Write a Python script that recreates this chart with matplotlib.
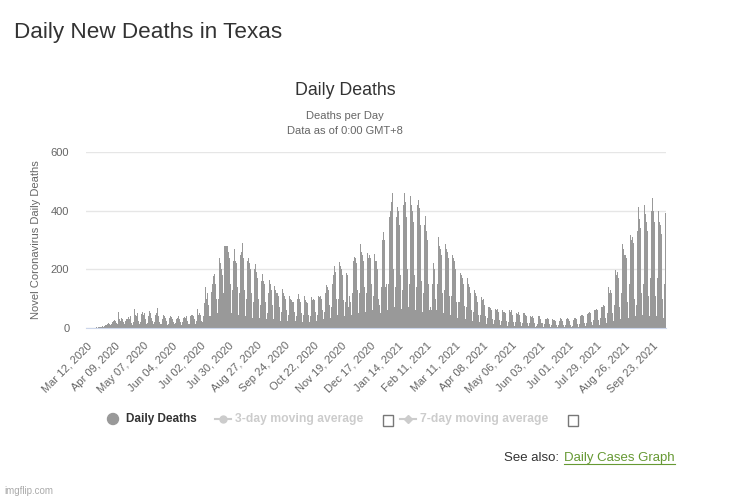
"""Daily New Deaths in Texas - bar chart recreated with matplotlib."""

import matplotlib
matplotlib.use("Agg")
import matplotlib.pyplot as plt
from matplotlib.patches import Circle, Rectangle
import numpy as np
import pandas as pd

START_DATE = "2020-03-12"

# daily deaths, one row per week (Thu..Wed)
deaths_2020_spring = [
    0, 0, 0, 0, 0, 1, 0,
    1, 1, 0, 2, 1, 3, 2,
    4, 5, 6, 3, 7, 9, 11,
    14, 18, 12, 9, 15, 22, 25,
    28, 25, 18, 13, 55, 30, 25,
    35, 32, 20, 12, 25, 30, 38,
    30, 40, 18, 10, 22, 65, 45,
    40, 50, 25, 14, 20, 48, 55,
    45, 50, 30, 12, 18, 40, 58,
    52, 35, 25, 15, 20, 45, 50,
    68, 40, 22, 12, 15, 30, 45,
    40, 35, 25, 10, 15, 35, 40,
    38, 30, 20, 12, 18, 30, 35,
    40, 32, 20, 10, 20, 35, 38,
    35, 40, 25, 12, 15, 40, 45,
    45, 40, 30, 15, 25, 65, 45,
]
deaths_2020_summer = [
    50, 45, 25, 20, 40, 85, 139,
    100, 120, 80, 40, 122, 150, 177,
    184, 150, 100, 50, 100, 240, 220,
    200, 180, 120, 280, 280, 280, 280,
    260, 240, 150, 50, 130, 230, 269,
    230, 220, 140, 45, 120, 250, 260,
    290, 240, 130, 40, 100, 230, 240,
    220, 200, 120, 35, 90, 200, 218,
    190, 170, 100, 35, 80, 160, 184,
    160, 150, 90, 30, 50, 120, 165,
    150, 130, 80, 30, 144, 130, 120,
    120, 110, 70, 25, 55, 133, 120,
    110, 100, 60, 25, 45, 110, 100,
    95, 90, 55, 25, 40, 100, 116,
    100, 90, 50, 20, 45, 108, 95,
    90, 85, 45, 20, 40, 105, 95,
    100, 95, 55, 25, 45, 110, 105,
    110, 100, 60, 30, 55, 120, 147,
]
deaths_2020_winter = [
    140, 130, 80, 35, 70, 150, 180,
    211, 190, 100, 45, 100, 225, 210,
    200, 180, 95, 40, 90, 189, 180,
    70, 110, 90, 45, 120, 229, 243,
    240, 220, 130, 50, 120, 285, 260,
    250, 230, 140, 55, 120, 257, 240,
    250, 240, 150, 60, 110, 251, 230,
    200, 100, 80, 50, 140, 300, 326,
    300, 140, 150, 60, 150, 380, 400,
    430, 461, 200, 70, 140, 380, 411,
    400, 350, 180, 65, 130, 420, 460,
    430, 380, 200, 70, 150, 451, 420,
    400, 360, 180, 60, 140, 420, 438,
    410, 350, 160, 55, 120, 350, 383,
    330, 300, 150, 60, 70, 60, 150,
    223, 200, 100, 60, 150, 309, 280,
    270, 250, 120, 50, 130, 286, 270,
    260, 240, 110, 45, 110, 250, 240,
]
deaths_2021_spring = [
    229, 200, 90, 35, 90, 189, 180,
    170, 150, 75, 30, 70, 171, 150,
    140, 120, 60, 25, 55, 131, 120,
    110, 90, 45, 20, 45, 104, 95,
    100, 80, 40, 15, 35, 73, 70,
    68, 60, 30, 12, 28, 65, 60,
    65, 55, 28, 10, 25, 60, 56,
    56, 50, 25, 8, 22, 62, 55,
    60, 45, 22, 8, 20, 51, 48,
    53, 45, 20, 7, 18, 50, 51,
    45, 40, 18, 6, 16, 40, 38,
    40, 35, 16, 5, 8, 15, 40,
    40, 32, 16, 5, 14, 32, 30,
    34, 30, 14, 4, 11, 30, 28,
    28, 25, 11, 4, 9, 25, 34,
    30, 25, 11, 4, 11, 30, 34,
]
deaths_2021_summer = [
    30, 25, 9, 4, 7, 28, 34,
    35, 30, 13, 5, 14, 40, 45,
    45, 40, 18, 7, 18, 49, 50,
    55, 50, 22, 9, 27, 62, 60,
    65, 60, 27, 11, 35, 73, 70,
    80, 75, 35, 18, 50, 139, 120,
    130, 120, 50, 25, 80, 198, 180,
    190, 170, 70, 30, 120, 286, 270,
    250, 240, 90, 35, 150, 318, 300,
    310, 290, 100, 40, 80, 330, 411,
    370, 340, 120, 45, 150, 419, 390,
    360, 330, 110, 40, 170, 400, 442,
    400, 360, 110, 40, 170, 400, 360,
    350, 320, 100, 35, 150, 392,
]

deaths = (deaths_2020_spring + deaths_2020_summer + deaths_2020_winter
          + deaths_2021_spring + deaths_2021_summer)
dates = pd.date_range(START_DATE, periods=len(deaths), freq="D")
tick_step = 28
y_ticks = [0, 200, 400, 600]

plt.rcParams["font.family"] = ["Liberation Sans", "DejaVu Sans"]

W, H = 748, 500
fig = plt.figure(figsize=(W / 100, H / 100), dpi=100)
fig.patch.set_facecolor("white")

# plot area in pixels: x 86..666, y 152..328
ax = fig.add_axes([86 / W, 1 - 328 / H, 580 / W, 176 / H])
x = np.arange(len(deaths))
ax.bar(x, deaths, width=1.0, color="#999999", linewidth=0)

ax.set_xlim(-0.5, len(deaths) - 0.5)
ax.set_ylim(0, 600)
ax.set_yticks(y_ticks)
ax.set_yticklabels([str(t) for t in y_ticks])
ax.grid(axis="y", color="#e6e6e6", linewidth=1)
ax.set_axisbelow(True)
for side in ("top", "right", "left"):
    ax.spines[side].set_visible(False)
ax.spines["bottom"].set_color("#ccd6eb")
ax.tick_params(axis="y", length=0, pad=12, labelsize=8, labelcolor="#666666")

tick_idx = x[::tick_step]
ax.set_xticks(tick_idx)
ax.set_xticklabels([dates[i].strftime("%b %d, %Y") for i in tick_idx],
                   rotation=45, ha="right", va="top", rotation_mode="anchor")
ax.tick_params(axis="x", length=0, pad=9, labelsize=8, labelcolor="#666666")

# overlay in pixel coordinates for titles and legend
ov = fig.add_axes([0, 0, 1, 1], zorder=-1)
ov.set_xlim(0, W)
ov.set_ylim(H, 0)
ov.axis("off")

ov.text(14, 38, "Daily New Deaths in Texas", fontsize=16.2, color="#333333",
        va="baseline")
ov.text(345, 95, "Daily Deaths", fontsize=12.8, color="#333333",
        ha="center", va="baseline")
ov.text(345, 119, "Deaths per Day", fontsize=8, color="#666666",
        ha="center", va="baseline")
ov.text(345, 134, "Data as of 0:00 GMT+8", fontsize=8, color="#666666",
        ha="center", va="baseline")
ov.text(36, 240, "Novel Coronavirus Daily Deaths", fontsize=8, color="#666666",
        rotation=90, ha="center", va="center")

# legend
ly = 419
ov.add_patch(Circle((113, ly), 5.5, color="#999999"))
ov.text(126, ly, "Daily Deaths", fontsize=8.5, fontweight="bold",
        color="#333333", va="center")
ov.plot([215, 231], [ly, ly], color="#cccccc", linewidth=1.5)
ov.plot([223], [ly], marker="o", markersize=5, color="#cccccc")
ov.text(235, ly, "3-day moving average", fontsize=8.7, fontweight="bold",
        color="#cccccc", va="center")
ov.add_patch(Rectangle((383, 415), 10, 11, facecolor="white",
                       edgecolor="#777777", linewidth=1))
ov.plot([400, 416], [ly, ly], color="#cccccc", linewidth=1.5)
ov.plot([408], [ly], marker="D", markersize=4, color="#cccccc")
ov.text(420, ly, "7-day moving average", fontsize=8.7, fontweight="bold",
        color="#cccccc", va="center")
ov.add_patch(Rectangle((568, 415), 10, 11, facecolor="white",
                       edgecolor="#777777", linewidth=1))

# see also link
ov.text(563, 461, "See also: ", fontsize=9.5, color="#333333",
        ha="right", va="baseline")
ov.text(675, 461, "Daily Cases Graph", fontsize=9.5, color="#669933",
        ha="right", va="baseline")
ov.plot([564, 675], [463.5, 463.5], color="#669933", linewidth=0.8)

ov.text(4, 494, "imgflip.com", fontsize=7, color="#aaaaaa", va="baseline")

fig.savefig("out.png", dpi=100, facecolor="white")
